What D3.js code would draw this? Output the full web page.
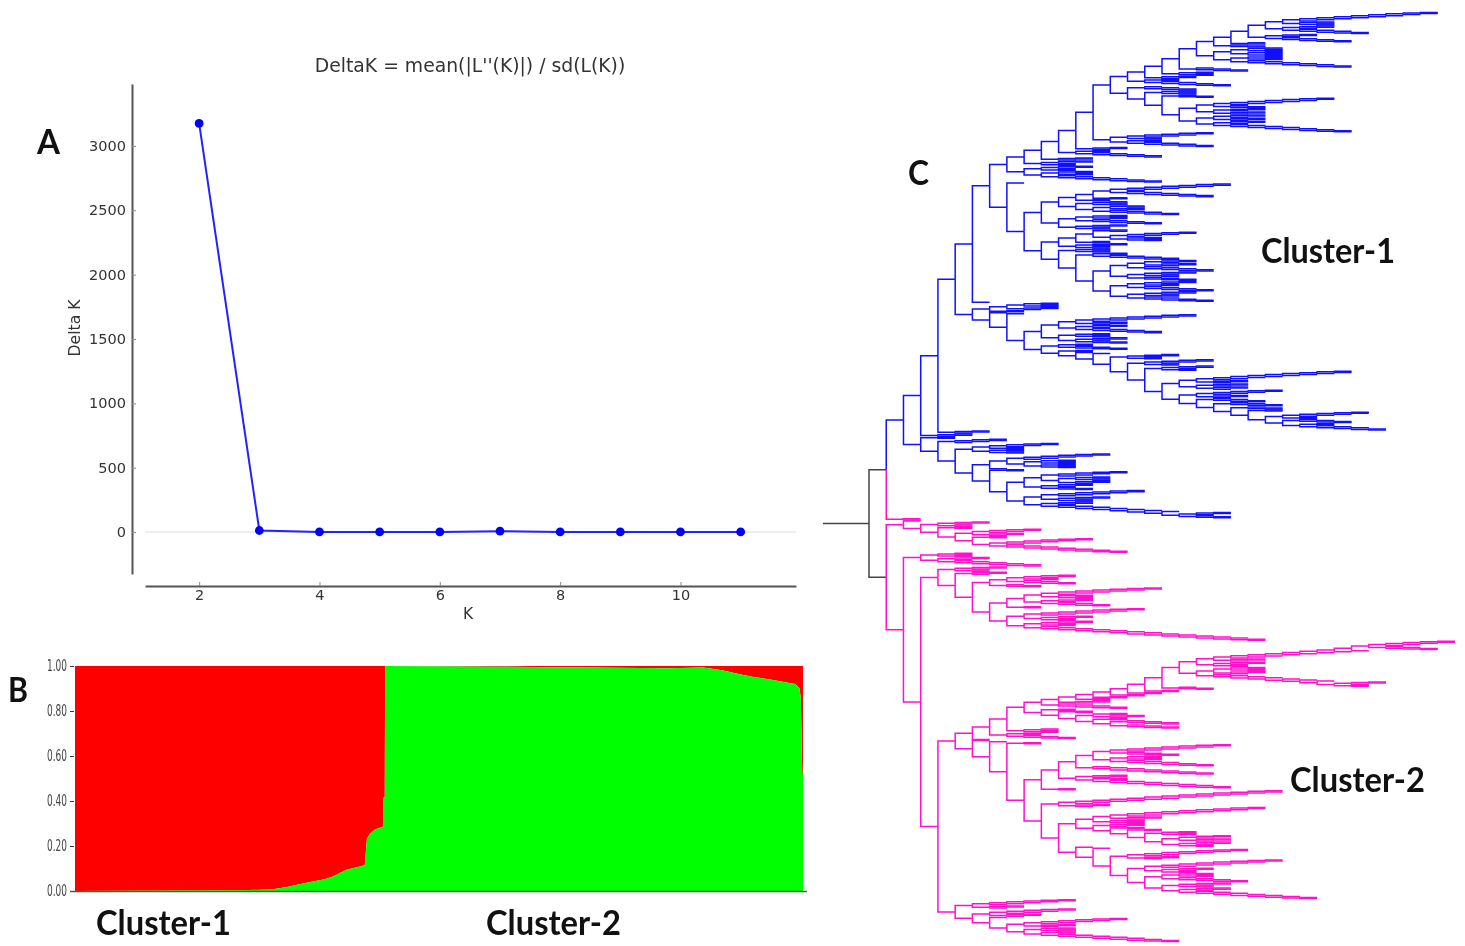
<!DOCTYPE html>
<html>
<head>
<meta charset="utf-8">
<script src="https://cdn.jsdelivr.net/npm/d3@7"></script>
<style>
  html, body { margin: 0; background: #fff; }
  svg { filter: blur(0.45px); }
  text { font-family: "DejaVu Sans", sans-serif; fill: #333; }
  .big { font-family: Lato, sans-serif; font-weight: 700; fill: #111; }
</style>
</head>
<body>
<div id="chart"></div>
<script>
// Panel A: Evanno delta K
const kValues = [2, 3, 4, 5, 6, 7, 8, 9, 10, 11];
const deltaK = [3175, 12, 1, 1, 1, 7, 1, 1, 1, 1];
const kTicks = [2, 4, 6, 8, 10];
const deltaTicks = [0, 500, 1000, 1500, 2000, 2500, 3000];

// Panel B: structure bar plot, share of green along the sorted individuals (percent)
const samplePos = [0, 22.7, 27, 29.1, 30.5, 32.3, 34.3, 35.5, 37.3, 39.8, 40.1, 40.5, 41.2, 42.3, 42.35, 42.55, 42.6,
  57.4, 81.4, 86.3, 88.9, 91.3, 93.2, 95.5, 97.2, 98.9, 99.5, 99.7, 99.9, 100];
const greenShare = [0, 0.003, 0.007, 0.018, 0.028, 0.04, 0.052, 0.066, 0.095, 0.114, 0.232, 0.254, 0.273, 0.286, 0.416, 0.416, 1,
  0.997, 0.99, 0.993, 0.981, 0.963, 0.951, 0.94, 0.93, 0.92, 0.902, 0.858, 0.52, 0.52];
const shareTicks = [0, 0.2, 0.4, 0.6, 0.8, 1];

// Panel C: tree, written as nested pairs. Number = comb of that many leaves
// (negative climbs upward), "bN" = balanced clade of N leaves.
const ladderDown = (k, tail) => k === 0 ? tail : [1, ladderDown(k - 1, tail)];
const ladderUp = (k, tail) => k === 0 ? tail : [ladderUp(k - 1, tail), 1];

// blue, top spike downwards
const b23a = [[-9, "b4"], ["b3", 5]];
const b22a = [b23a, ["b3", 5]];
const b20a = [[b22a, "b2"], 3];
const b20b = ["b8", ["b4", 7]];
const b18a = [[b20a, b20b], 4];
const b16a = [[b18a, "b4"], "b3"];
const b15a = [b16a, ["b2", 5]];
const b19c = [[-7, 3], "b6"];
const b19d = ["b6", ["b3", 8]];
const b16c = ["b4", [3, [b19c, b19d]]];
const b15b = [4, b16c];
const b14b = [[-5, "b2"], ["b2", 5]];
const b13a = [[b15a, b15b], b14b];
const b11a = [[b13a, "b3"], ["b2", 5]];
const b9a = [[b11a, "b3"], "b5"];
const b9b = ["b5", ["b4", 7]];
const b8a = [b9a, b9b];

const b12a = [[[-7, 6], "b2"], "b2"];
const b12b = ["b4", ["b4", 5]];
const b11c = [["b4", 5], "b5"];
const b10c = [[b12a, b12b], b11c];
const b12d = [["b2", [-5, "b4"]], "b2"];
const b13d = [[["b6", 5], ["b5", 4]], [["b5", 5], ["b5", 5]]];
const b11e = ["b4", [["b2", 5], b13d]];
const b10d = [[b12d, "b5"], b11e];
const b7a = [b8a, [1, [b10c, b10d]]];
const b6a = [b7a, 1];

// blue, second block with the long tail
const b10e = [[[-7, "b3"], ["b3", 5]], ["b4", ["b3", 3]]];
const b24a = [[-5, "b2"], [4, ["b2", 5]]];
const b20g = [4, [3, [2, b24a]]];
const b18d = [[-9, "b3"], "b6"];
const b17a = [b18d, [[-5, "b3"], [4, b20g]]];
const b14a = ["b5", [[-4, "b2"], ["b5", b17a]]];
const b11f = [2, [1, [1, b14a]]];
const b10f = [["b2", 4], b11f];
const b6b = [["b7", 2], [1, [1, [b10e, b10f]]]];

// blue, bottom block
const b6c = [[-4, "b2"], "b4"];
const b7b = [[-6, "b8"], 1];
const b9c = [[-5, "b7"], ["b3", 3]];
const b9d = [[-6, "b5"], ["b3", ladderDown(7, ["b3", 3])]];
const b7c = [2, [b9c, b9d]];
const b5a = [b6c, [b7b, b7c]];
const blueBottom = [2, [-4, b5a]];

const blueTop = [[[[b6a, b6b], "b3"], "b3"], blueBottom];

// pink, small block
const p5a = [[-4, "b3"], ["b2", [-6, 8]]];
const pinkSmall = [1, [[-3, "b2"], [2, p5a]]];

// pink, second block
const p3a = ["b4", ["b3", 6]];
const p7a = [["b5", 4], 3];
const p9a = [[[-7, "b4"], ["b3", 4]], 2];
const p9b = [[-7, "b5"], ["b5", 14]];
const p6a = [p7a, [p9a, p9b]];
const p4a = ["b5", ["b3", p6a]];

// pink, long spike and the crown under it
const p21a = ladderUp(7, [[-5, 4], 1]);
const p18a = [[[p21a, "b3"], "b5"], ["b7", ladderDown(7, "b5")]];
const p17a = [p18a, 3];
const p11a = [[[[[[p17a, "b2"], "b2"], "b2"], "b2"], "b2"], "b3"];
const p12a = [["b2", -3], ["b2", [4, 4]]];
const p9c = [[p11a, 5], ["b2", ["b2", p12a]]];
const p7b = [[p9c, "b4"], ["b2", 4]];

// pink, lower middle block
const p13a = [[[-7, 4], ["b4", 6]], 8];
const p10a = [[p13a, ["b3", ["b2", 8]]], 2];
const p13c = [[[-9, "b3"], "b4"], ["b3", ["b2", ["b2", ["b4", "b11"]]]]];
const p16a = [[-8, "b5"], [["b4", 5], ["b5", ["b3", 8]]]];
const p12c = [1, [1, [[-7, "b3"], p16a]]];
const p10b = [[-13, "b3"], [p13c, p12c]];
const p8a = [2, [p10a, p10b]];
const p5b = [[p7b, 1], [1, [1, p8a]]];

// pink, bottom block
const p8b = [[-6, "b3"], ["b4", ["b2", 8]]];
const p5c = [[-6, "b3"], [[-5, "b3"], [1, p8b]]];

const pinkLower = [p3a, [p4a, [p5b, p5c]]];
const treeData = [[blueTop, 2], [pinkSmall, pinkLower]];

function balanced(n) {
  if (n === 1) return { name: "leaf" };
  const half = Math.ceil(n / 2);
  return { children: [balanced(half), balanced(n - half)] };
}
function comb(n) {
  if (Math.abs(n) === 1) return { name: "leaf" };
  const rest = comb(n > 0 ? n - 1 : n + 1);
  return { children: n > 0 ? [{ name: "leaf" }, rest] : [rest, { name: "leaf" }] };
}
function expand(t) {
  if (typeof t === "number") return comb(t);
  if (typeof t === "string") return balanced(+t.slice(1));
  return { children: t.map(expand) };
}

const width = 1465, height = 946;
const svg = d3.select("#chart").append("svg")
  .attr("width", width)
  .attr("height", height)
  .style("display", "block");

// ---- A ----
const xA = d3.scaleLinear([1.1, 11.92], [145, 796]);
const yA = d3.scaleLinear([-326, 3481], [574, 84]);

svg.append("line")
  .attr("x1", xA(1.1)).attr("x2", xA(11.92))
  .attr("y1", yA(0)).attr("y2", yA(0))
  .attr("stroke", "#ddd");

const axisBottomA = svg.append("g")
  .attr("transform", `translate(0,586)`)
  .call(d3.axisBottom(xA).tickValues(kTicks).tickSizeOuter(0).tickSizeInner(-4).tickPadding(4));
const axisLeftA = svg.append("g")
  .attr("transform", `translate(132,0)`)
  .call(d3.axisLeft(yA).tickValues(deltaTicks).tickFormat(d3.format("d")).tickSizeOuter(0).tickSizeInner(-4).tickPadding(6));
for (const g of [axisBottomA, axisLeftA]) {
  g.select(".domain").attr("stroke", "#555").attr("stroke-width", 2);
  g.selectAll("line").attr("stroke", "#888");
  g.selectAll("text").style("font-size", "14.5px").style("font-family", "DejaVu Sans");
}

svg.append("path")
  .datum(kValues.map((k, i) => [k, deltaK[i]]))
  .attr("fill", "none")
  .attr("stroke", "#2222ff")
  .attr("stroke-width", 2)
  .attr("d", d3.line().x(d => xA(d[0])).y(d => yA(d[1])));

svg.selectAll(".dot")
  .data(kValues.map((k, i) => [k, deltaK[i]]))
  .join("circle")
  .attr("class", "dot")
  .attr("cx", d => xA(d[0]))
  .attr("cy", d => yA(d[1]))
  .attr("r", 4.4)
  .attr("fill", "#0000ff");

svg.append("text").attr("x", 470).attr("y", 72).attr("text-anchor", "middle")
  .style("font-size", "18.8px").text("DeltaK = mean(|L''(K)|) / sd(L(K))");
svg.append("text").attr("x", 468).attr("y", 619).attr("text-anchor", "middle")
  .style("font-size", "15.5px").text("K");
svg.append("text").attr("transform", "translate(80,328) rotate(-90)").attr("text-anchor", "middle")
  .style("font-size", "15.6px").text("Delta K");

// ---- B ----
const xB = d3.scaleLinear([0, 100], [75, 803]);
const yB = d3.scaleLinear([0, 1], [891, 666]);
const shares = samplePos.map((p, i) => [p, greenShare[i]]);

svg.append("path").datum(shares).attr("fill", "#ff0000")
  .attr("d", d3.area().x(d => xB(d[0])).y0(d => yB(d[1])).y1(yB(1)));
svg.append("path").datum(shares).attr("fill", "#00ff00")
  .attr("d", d3.area().x(d => xB(d[0])).y0(yB(0)).y1(d => yB(d[1])));

const axisLeftB = svg.append("g")
  .attr("transform", `translate(74,0)`)
  .call(d3.axisLeft(yB).tickValues(shareTicks).tickFormat(d3.format(".2f")).tickSize(4).tickPadding(3));
axisLeftB.select(".domain").remove();
axisLeftB.selectAll("line").attr("stroke", "#334");
axisLeftB.selectAll("text")
  .style("font-size", "15px")
  .style("fill", "#444")
  .attr("textLength", 20)
  .attr("lengthAdjust", "spacingAndGlyphs");
svg.append("line").attr("x1", 70).attr("x2", 807).attr("y1", yB(0) + 0.5).attr("y2", yB(0) + 0.5)
  .attr("stroke", "#3a6a3a").attr("stroke-width", 1.5);

// ---- C ----
const root = d3.hierarchy(expand(treeData));
const leafCount = root.leaves().length;
d3.cluster().size([leafCount - 1, 1]).separation(() => 1)(root);

const xC = d3.scaleLinear([0, 34], [869, 1455]);
const yC = d3.scaleLinear([0, leafCount - 1], [12, 942]);
const blueNodes = new Set(root.children[0].children[0].descendants());
const linkColor = d => d.target.depth <= 1 ? "#444" : blueNodes.has(d.target) ? "#1010ff" : "#ff10cc";

const gTree = svg.append("g").attr("fill", "none").attr("stroke-width", 1.5);
gTree.selectAll("path")
  .data(root.links())
  .join("path")
  .attr("stroke", linkColor)
  .attr("d", d => `M${xC(d.source.depth)},${yC(d.source.x)}V${yC(d.target.x)}H${xC(d.target.depth)}`);
gTree.append("path").attr("stroke", "#444")
  .attr("d", `M823,${yC(root.x)}H${xC(0)}`);

// ---- labels ----
const labels = [
  { text: "A", x: 37, y: 154, len: 23 },
  { text: "B", x: 8, y: 702, len: 20 },
  { text: "C", x: 908, y: 185, len: 21 },
  { text: "Cluster-1", x: 96, y: 935, len: 135 },
  { text: "Cluster-2", x: 486, y: 935, len: 135 },
  { text: "Cluster-1", x: 1261, y: 263, len: 134 },
  { text: "Cluster-2", x: 1290, y: 792, len: 135 }
];
svg.selectAll(".big")
  .data(labels)
  .join("text")
  .attr("class", "big")
  .attr("x", d => d.x)
  .attr("y", d => d.y)
  .attr("textLength", d => d.len)
  .attr("lengthAdjust", "spacingAndGlyphs")
  .style("font-size", "35px")
  .text(d => d.text);
</script>
</body>
</html>
